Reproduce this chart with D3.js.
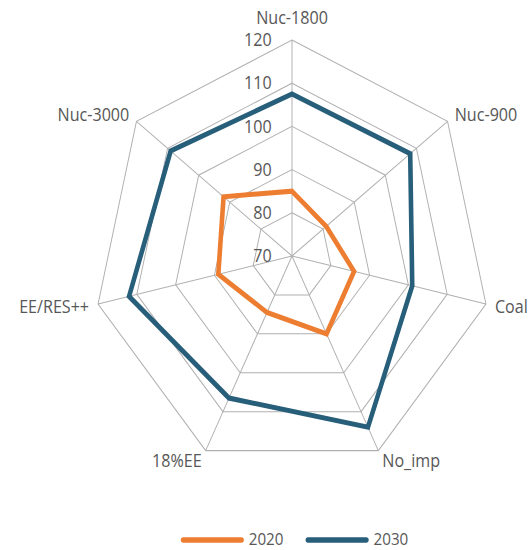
<!DOCTYPE html>
<html>
<head>
<meta charset="utf-8">
<script src="https://cdn.jsdelivr.net/npm/d3@7/dist/d3.min.js"></script>
<style>
  html, body { margin: 0; padding: 0; background: #fff; }
  svg { display: block; }
  text { font-family: "Open Sans", sans-serif; fill: #575757; }
</style>
</head>
<body>
<svg id="chart" width="532" height="550"></svg>
<script>
// Scenario axes, clockwise from the top
const categories = ["Nuc-1800", "Nuc-900", "Coal", "No_imp", "18%EE", "EE/RES++", "Nuc-3000"];
const years = ["2020", "2030"];
const values2020 = [85, 81, 86, 90, 84.5, 89, 92];
const values2030 = [107.5, 108, 101, 114, 106.5, 112, 109];
const tickValues = [70, 80, 90, 100, 110, 120];
const colors = ["#ED7D31", "#275E7A"];

const cx = 292, cy = 256;
const R = 216;          // radius in chart units
const squeeze = 0.921;  // horizontal compression of the plot

const svg = d3.select("#chart");

const r = d3.scaleLinear().domain([70, 120]).range([0, R]);
const step = 2 * Math.PI / categories.length;
const ang = (i) => i * step;
const px = (i, v) => r(v) * Math.sin(ang(i));
const py = (i, v) => -r(v) * Math.cos(ang(i));

const g = svg.append("g").attr("transform", `translate(${cx},${cy}) scale(${squeeze},1)`);

// Grid rings
const ringLine = d3.line().x(d => d[0]).y(d => d[1]).curve(d3.curveLinearClosed);
g.append("g").selectAll("path.ring")
  .data(tickValues.filter(t => t > 70))
  .join("path")
  .attr("class", "ring")
  .attr("d", t => ringLine(categories.map((c, i) => [px(i, t), py(i, t)])))
  .attr("fill", "none")
  .attr("stroke", "#b0b0b0")
  .attr("stroke-width", 1.05);

// Spokes
g.append("g").selectAll("line")
  .data(categories)
  .join("line")
  .attr("x1", 0).attr("y1", 0)
  .attr("x2", (c, i) => px(i, 120))
  .attr("y2", (c, i) => py(i, 120))
  .attr("stroke", "#b0b0b0")
  .attr("stroke-width", 1.05);

// Series
const series = [values2020, values2030];
g.append("g").selectAll("path.series")
  .data(series)
  .join("path")
  .attr("class", "series")
  .attr("d", vals => ringLine(vals.map((v, i) => [px(i, v), py(i, v)])))
  .attr("fill", "none")
  .attr("stroke", (d, k) => colors[k])
  .attr("stroke-width", 5)
  .attr("stroke-linejoin", "miter");

// Value ticks along the top axis
g.append("g").selectAll("text")
  .data(tickValues)
  .join("text")
  .attr("x", -22)
  .attr("y", t => -r(t))
  .attr("dy", "0.35em")
  .attr("text-anchor", "end")
  .attr("font-size", 17.5)
  .text(t => t);

// Category labels
g.append("g").selectAll("text")
  .data(categories)
  .join("text")
  .attr("font-size", 17.5)
  .attr("text-anchor", (c, i) => {
    const s = Math.sin(ang(i));
    return s > 0.1 ? "start" : s < -0.1 ? "end" : "middle";
  })
  .attr("x", (c, i) => px(i, 120) + 10 * Math.sin(ang(i)))
  .attr("y", (c, i) => i === 0 ? -R - 16 : py(i, 120) - 11 * Math.cos(ang(i)))
  .attr("dy", (c, i) => i === 0 ? 0 : "0.35em")
  .text(c => c);

// Legend
const lg = svg.append("g").attr("transform", `translate(${cx},539) scale(${squeeze},1)`);
const legendX = [-118, 17.5];
const item = lg.selectAll("g").data(years).join("g")
  .attr("transform", (d, k) => `translate(${legendX[k]},0)`);
item.append("line")
  .attr("x1", 0).attr("x2", 63).attr("y1", 1).attr("y2", 1)
  .attr("stroke", (d, k) => colors[k])
  .attr("stroke-width", 5.5)
  .attr("stroke-linecap", "round");
item.append("text")
  .attr("x", 71)
  .attr("dy", "0.35em")
  .attr("font-size", 16.5)
  .text(d => d);
</script>
</body>
</html>
